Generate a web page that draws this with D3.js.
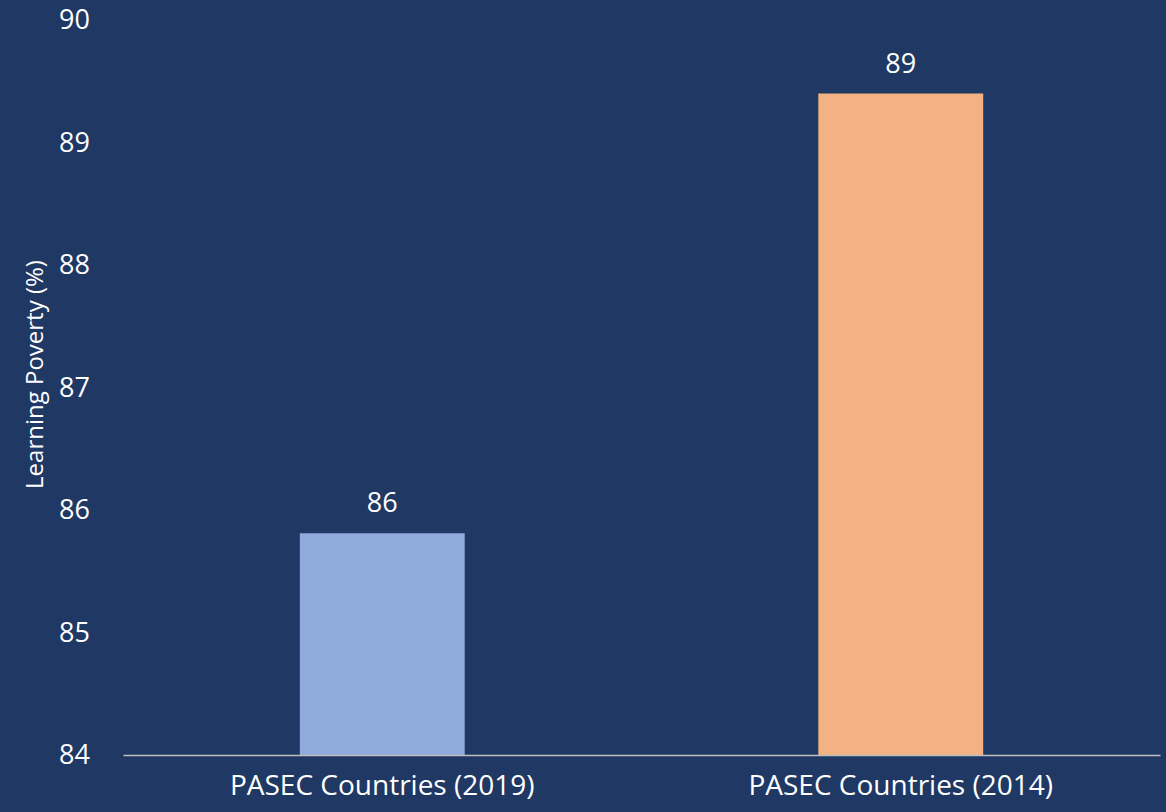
<!DOCTYPE html>
<html>
<head>
<meta charset="utf-8">
<script src="https://cdn.jsdelivr.net/npm/d3@7"></script>
<style>
  body { margin: 0; background: #203864; }
  svg text { font-family: 'Open Sans', 'Noto Sans', sans-serif; fill: #fff; }
</style>
</head>
<body>
<div id="chart"></div>
<script>
const categories = ['PASEC Countries (2019)', 'PASEC Countries (2014)'];
const values = [85.81, 89.4];
const labels = ['86', '89'];
const colors = ['#8FAADC', '#F4B183'];
const yTicks = [84, 85, 86, 87, 88, 89, 90];

const w = 1166, h = 812;
const margin = { top: 20, right: 6, bottom: 57, left: 123 };
const width = w - margin.left - margin.right;
const height = h - margin.top - margin.bottom;

const svg = d3.select('#chart')
  .append('svg')
  .attr('width', w)
  .attr('height', h)
  .style('background', '#203864')
  .append('g')
  .attr('transform', 'translate(' + margin.left + ',' + margin.top + ')');

const x = d3.scaleBand()
  .domain(categories)
  .range([0, width])
  .paddingInner(0.682)
  .paddingOuter(0.341);
const y = d3.scaleLinear().domain([84, 90]).range([height, 0]);

// bars
svg.selectAll('rect.bar')
  .data(values)
  .enter()
  .append('rect')
  .attr('class', 'bar')
  .attr('x', (d, i) => x(categories[i]))
  .attr('width', x.bandwidth())
  .attr('y', d => y(d))
  .attr('height', d => height - y(d))
  .attr('fill', (d, i) => colors[i]);

// value labels
svg.selectAll('text.val')
  .data(values)
  .enter()
  .append('text')
  .attr('class', 'val')
  .attr('x', (d, i) => x(categories[i]) + x.bandwidth() / 2)
  .attr('y', d => y(d) - 21)
  .attr('text-anchor', 'middle')
  .style('font-size', '27px')
  .text((d, i) => labels[i]);

// y axis (labels only)
const yAxis = svg.append('g')
  .call(d3.axisLeft(y).tickValues(yTicks).tickSize(0).tickPadding(33).tickFormat(d3.format('d')));
yAxis.select('.domain').remove();
yAxis.selectAll('text').style('font-size', '27px').style('fill', '#fff')
  .style('font-family', "'Open Sans', 'Noto Sans', sans-serif");

// x axis
const xAxis = svg.append('g')
  .attr('transform', 'translate(0,' + height + ')')
  .call(d3.axisBottom(x).tickSize(0).tickPadding(20));
xAxis.select('.domain').attr('stroke', '#BFBFBF').attr('stroke-width', 1.5);
xAxis.selectAll('text').style('font-size', '28px').style('fill', '#fff')
  .style('font-family', "'Open Sans', 'Noto Sans', sans-serif");

// y title
svg.append('text')
  .attr('transform', 'rotate(-90)')
  .attr('x', -height / 2 + 13)
  .attr('y', -80)
  .attr('text-anchor', 'middle')
  .style('font-size', '24px')
  .text('Learning Poverty (%)');
</script>
</body>
</html>
